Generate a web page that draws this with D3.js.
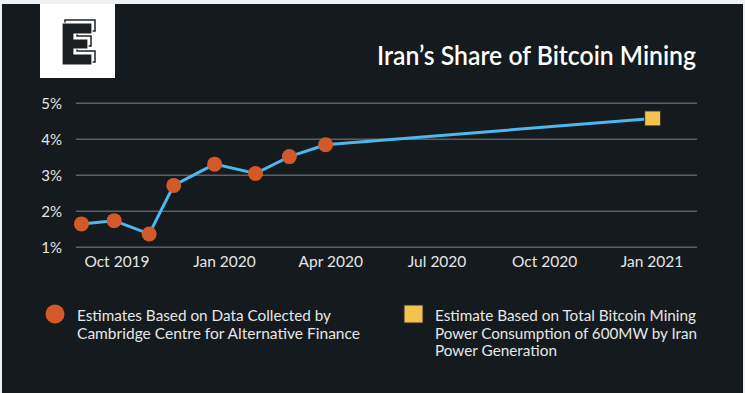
<!DOCTYPE html>
<html>
<head>
<meta charset="utf-8">
<script src="https://cdn.jsdelivr.net/npm/d3@7"></script>
<style>
  html, body { margin: 0; padding: 0; background: #eef0f3; }
  svg { display: block; font-family: Lato, "Open Sans", sans-serif; }
</style>
</head>
<body>
<div id="chart"></div>
<script>
(function(){
  var width = 745,
    height = 393;

  // cambridge estimates (monthly-ish)
  var cambridgeDates = ["2019-09-01", "2019-09-29", "2019-10-29", "2019-11-19", "2019-12-24", "2020-01-28", "2020-02-26", "2020-03-28"];
  var cambridgeValues = [1.65, 1.74, 1.37, 2.72, 3.31, 3.05, 3.52, 3.85];
  // power generation estimate
  var powerDates = ["2021-01-02"];
  var powerValues = [4.58];

  var yTicks = [1, 2, 3, 4, 5];
  var xTicks = ["2019-10-01", "2020-01-01", "2020-04-01", "2020-07-01", "2020-10-01", "2021-01-01"];
  var legendLabels = [
    ["Estimates Based on Data Collected by", "Cambridge Centre for Alternative Finance"],
    ["Estimate Based on Total Bitcoin Mining", "Power Consumption of 600MW by Iran", "Power Generation"]
  ];

  var parse = d3.timeParse("%Y-%m-%d");

  var points = cambridgeDates.map(function(d, i){
    return { date: parse(d), value: cambridgeValues[i], kind: "c" };
  });
  var est = powerDates.map(function(d, i){
    return { date: parse(d), value: powerValues[i], kind: "p" };
  });
  var all = points.concat(est);

  var svg = d3.select("#chart")
    .append("svg")
    .attr("width", width)
    .attr("height", height);

  // dark panel
  svg.append("rect")
    .attr("x", 2).attr("y", 4)
    .attr("width", 741).attr("height", 389)
    .attr("fill", "#151a1e");

  // logo box
  var logo = svg.append("g").attr("transform", "translate(40,4)");
  logo.append("rect")
    .attr("width", 75).attr("height", 74)
    .attr("fill", "#ffffff");
  var ePath = "M0,0 H30 V11 H12 V16 H26 V26 H12 V31 H30 V42 H0 Z";
  logo.append("path")
    .attr("d", ePath)
    .attr("transform", "translate(25,16)")
    .attr("fill", "#ffffff")
    .attr("stroke", "#222")
    .attr("stroke-width", 1.5);
  logo.append("path")
    .attr("d", ePath)
    .attr("transform", "translate(22,19)")
    .attr("fill", "#1b1f22")
    .attr("stroke", "#ffffff")
    .attr("stroke-width", 1.2);

  // title
  svg.append("text")
    .attr("x", 696).attr("y", 65)
    .attr("text-anchor", "end")
    .attr("fill", "#ffffff")
    .attr("font-size", 27)
    .attr("font-weight", 600)
    .attr("textLength", 319)
    .attr("lengthAdjust", "spacingAndGlyphs")
    .text("Iran\u2019s Share of Bitcoin Mining");

  var x = d3.scaleTime()
    .domain([parse(xTicks[0]), parse(xTicks[xTicks.length - 1])])
    .range([116.5, 651.5]);

  var y = d3.scaleLinear()
    .domain([1, 5])
    .range([247.3, 103.3]);

  // grid lines
  svg.append("g")
    .selectAll("line")
    .data(yTicks)
    .enter().append("line")
    .attr("x1", 76).attr("x2", 697)
    .attr("y1", function(d){ return y(d); })
    .attr("y2", function(d){ return y(d); })
    .attr("stroke", "#5d6165")
    .attr("stroke-width", 1.5);

  // y axis labels
  var yAxis = d3.axisLeft(y)
    .tickValues(yTicks)
    .tickSize(0)
    .tickPadding(0)
    .tickFormat(function(d){ return d + "%"; });
  var gy = svg.append("g")
    .attr("transform", "translate(62,0)")
    .call(yAxis);
  gy.select(".domain").remove();
  gy.selectAll("text")
    .attr("fill", "#e6e6e6")
    .attr("font-size", 15)
    .attr("font-family", "Lato, sans-serif");

  // x axis labels
  var xAxis = d3.axisBottom(x)
    .tickValues(xTicks.map(parse))
    .tickSize(0)
    .tickPadding(0)
    .tickFormat(d3.timeFormat("%b %Y"));
  var gx = svg.append("g")
    .attr("transform", "translate(0,256)")
    .call(xAxis);
  gx.select(".domain").remove();
  gx.selectAll("text")
    .attr("fill", "#e6e6e6")
    .attr("font-size", 15.5)
    .attr("font-family", "Lato, sans-serif");

  // line
  var line = d3.line()
    .x(function(d){ return x(d.date); })
    .y(function(d){ return y(d.value); });

  svg.append("path")
    .datum(all)
    .attr("d", line)
    .attr("fill", "none")
    .attr("stroke", "#4db7ee")
    .attr("stroke-width", 3);

  svg.selectAll(".dot")
    .data(points)
    .enter().append("circle")
    .attr("class", "dot")
    .attr("cx", function(d){ return x(d.date); })
    .attr("cy", function(d){ return y(d.value); })
    .attr("r", 7.5)
    .attr("fill", "#d35a28");

  svg.selectAll(".est")
    .data(est)
    .enter().append("rect")
    .attr("class", "est")
    .attr("x", function(d){ return x(d.date) - 8; })
    .attr("y", function(d){ return y(d.value) - 7.5; })
    .attr("width", 16).attr("height", 15)
    .attr("fill", "#f3c24f")
    .attr("stroke", "#2a2a22")
    .attr("stroke-width", 1);

  // legend
  var lineWidths = [[254, 283], [261, 262, 122]];

  function legendText(g, lines, widths, lx) {
    g.selectAll("text.lg")
      .data(lines)
      .enter().append("text")
      .attr("class", "lg")
      .attr("x", lx)
      .attr("y", function(d, i){ return 321 + i * 17.5; })
      .attr("fill", "#e6e6e6")
      .attr("font-size", 15)
      .attr("textLength", function(d, i){ return widths[i]; })
      .attr("lengthAdjust", "spacingAndGlyphs")
      .text(function(d){ return d; });
  }

  var leg1 = svg.append("g");
  leg1.append("circle")
    .attr("cx", 55).attr("cy", 314).attr("r", 9.5)
    .attr("fill", "#d35a28");
  legendText(leg1, legendLabels[0], lineWidths[0], 77);

  var leg2 = svg.append("g");
  leg2.append("rect")
    .attr("x", 404).attr("y", 305)
    .attr("width", 19).attr("height", 18)
    .attr("fill", "#f3c24f")
    .attr("stroke", "#2a2a22");
  legendText(leg2, legendLabels[1], lineWidths[1], 435);

})();
</script>
</body>
</html>
